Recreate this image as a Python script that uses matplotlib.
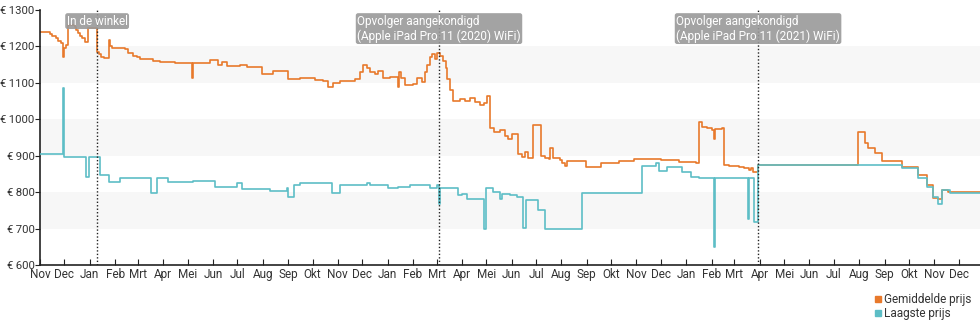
import matplotlib
matplotlib.use("Agg")
import matplotlib.pyplot as plt
import matplotlib.dates as mdates
from matplotlib.lines import Line2D
import pandas as pd

plt.rcParams['font.family'] = ['Roboto', 'DejaVu Sans']

# Gemiddelde prijs (average price)
avg_dates = [
    "2018-11-01", "2018-11-13", "2018-11-16", "2018-11-21", "2018-11-23", "2018-11-27",
    "2018-11-29", "2018-11-30", "2018-12-03", "2018-12-05", "2018-12-14", "2018-12-15",
    "2018-12-18", "2018-12-20", "2018-12-22", "2018-12-26", "2018-12-30", "2019-01-10",
    "2019-01-12", "2019-01-15", "2019-01-18", "2019-01-24", "2019-01-26", "2019-01-28",
    "2019-02-03", "2019-02-13", "2019-02-17", "2019-02-23", "2019-02-28", "2019-03-04",
    "2019-03-19", "2019-03-28", "2019-04-15", "2019-05-06", "2019-05-07", "2019-05-28",
    "2019-06-07", "2019-06-12", "2019-06-18", "2019-07-04", "2019-07-13", "2019-07-31",
    "2019-08-13", "2019-09-01", "2019-09-16", "2019-10-04", "2019-10-14", "2019-10-20",
    "2019-10-26", "2019-11-04", "2019-11-22", "2019-11-28", "2019-12-02", "2019-12-07",
    "2019-12-10", "2019-12-16", "2019-12-20", "2019-12-26", "2020-01-04", "2020-01-14",
    "2020-01-15", "2020-01-17", "2020-01-22", "2020-02-01", "2020-02-06", "2020-02-12",
    "2020-02-16", "2020-02-18", "2020-02-22", "2020-02-24", "2020-02-28", "2020-03-01",
    "2020-03-05", "2020-03-09", "2020-03-12", "2020-03-14", "2020-03-17", "2020-03-21",
    "2020-03-30", "2020-04-05", "2020-04-11", "2020-04-17", "2020-04-23", "2020-04-28",
    "2020-05-02", "2020-05-05", "2020-05-10", "2020-05-18", "2020-05-24", "2020-05-27",
    "2020-06-01", "2020-06-09", "2020-06-14", "2020-06-17", "2020-06-21", "2020-06-27",
    "2020-07-07", "2020-07-12", "2020-07-17", "2020-07-18", "2020-07-22", "2020-07-30",
    "2020-08-02", "2020-08-05", "2020-08-08", "2020-08-31", "2020-09-19", "2020-10-11",
    "2020-10-29", "2020-12-01", "2020-12-23", "2021-01-13", "2021-01-17", "2021-01-20",
    "2021-01-26", "2021-02-02", "2021-02-04", "2021-02-05", "2021-02-14", "2021-02-16",
    "2021-02-22", "2021-03-07", "2021-03-13", "2021-03-19", "2021-03-21", "2021-03-24",
    "2021-03-30", "2021-07-31", "2021-08-08", "2021-08-12", "2021-08-20", "2021-08-29",
    "2021-09-22", "2021-10-12", "2021-10-23", "2021-10-30", "2021-11-05", "2021-11-11",
    "2021-11-18", "2021-12-27",
]
avg_prices = [
    1240, 1234, 1228, 1222, 1215, 1210,
    1172, 1195, 1205, 1258, 1252, 1245,
    1238, 1230, 1222, 1213, 1250, 1185,
    1180, 1172, 1168, 1218, 1200, 1197,
    1195, 1192, 1182, 1175, 1170, 1165,
    1160, 1156, 1155, 1113, 1155, 1162,
    1149, 1157, 1145, 1150, 1143, 1125,
    1132, 1110, 1112, 1108, 1104, 1090,
    1100, 1105, 1110, 1130, 1150, 1140,
    1130, 1125, 1132, 1112, 1115, 1090,
    1130, 1112, 1095, 1097, 1112, 1102,
    1130, 1150, 1170, 1178, 1165, 1182,
    1175, 1160, 1140, 1110, 1080, 1050,
    1055, 1050, 1058, 1048, 1040, 1045,
    1065, 975, 965, 970, 955, 945,
    960, 905, 897, 910, 893, 985,
    900, 895, 890, 920, 895, 888,
    880, 873, 885, 870, 880, 885,
    892, 888, 884, 880, 992, 980,
    975, 970, 945, 972, 975, 875,
    873, 870, 866, 860, 866, 855,
    875, 965, 935, 921, 908, 885,
    868, 847, 820, 784, 780, 806,
    800, 800,
]

# Laagste prijs (lowest price)
low_dates = [
    "2018-11-01", "2018-11-29", "2018-11-30", "2018-12-27", "2018-12-31", "2019-01-14",
    "2019-01-25", "2019-02-07", "2019-03-17", "2019-03-24", "2019-04-07", "2019-05-07",
    "2019-06-03", "2019-06-30", "2019-07-07", "2019-08-10", "2019-08-31", "2019-09-01",
    "2019-09-08", "2019-09-16", "2019-10-25", "2019-11-04", "2019-12-07", "2019-12-10",
    "2020-01-01", "2020-01-14", "2020-01-28", "2020-02-22", "2020-03-02", "2020-03-04",
    "2020-03-05", "2020-03-27", "2020-04-01", "2020-04-07", "2020-04-28", "2020-04-30",
    "2020-05-09", "2020-05-18", "2020-05-20", "2020-05-30", "2020-06-08", "2020-06-15",
    "2020-06-18", "2020-07-03", "2020-07-12", "2020-08-26", "2020-11-08", "2020-11-25",
    "2020-11-29", "2020-12-08", "2020-12-27", "2021-01-07", "2021-01-17", "2021-02-04",
    "2021-02-05", "2021-03-18", "2021-03-19", "2021-03-25", "2021-03-30", "2021-09-22",
    "2021-10-12", "2021-10-23", "2021-10-30", "2021-11-05", "2021-11-11", "2021-11-20",
    "2021-12-27",
]
low_prices = [
    905, 1086, 897, 842, 897, 847,
    828, 838, 798, 838, 828, 830,
    814, 825, 810, 802, 811, 787,
    820, 826, 797, 820, 826, 820,
    811, 815, 820, 811, 820, 768,
    811, 792, 795, 780, 700, 811,
    800, 780, 795, 792, 787, 702,
    779, 751, 700, 797, 872, 880,
    858, 870, 855, 842, 838, 649,
    838, 726, 838, 718, 875, 866,
    840, 815, 787, 768, 806, 798,
    798,
]

events = ["2019-01-10", "2020-03-04", "2021-03-30"]
event_labels = ["In de winkel",
                "Opvolger aangekondigd\n(Apple iPad Pro 11 (2020) WiFi)",
                "Opvolger aangekondigd\n(Apple iPad Pro 11 (2021) WiFi)"]

month_names = ["Jan", "Feb", "Mrt", "Apr", "Mei", "Jun",
               "Jul", "Aug", "Sep", "Okt", "Nov", "Dec"]

ORANGE = "#e8792b"
TEAL = "#5dbec6"

fig = plt.figure(figsize=(9.8, 3.25), dpi=100)
ax = fig.add_axes([40 / 980, 1 - 265 / 325, 1 - 40 / 980, 255 / 325])

for lo in (700, 900, 1100):
    ax.axhspan(lo, lo + 100, color="#f7f7f7", zorder=0, lw=0)

ax.step(pd.to_datetime(avg_dates), avg_prices, where="post", color=ORANGE, lw=1.2, zorder=2)
ax.step(pd.to_datetime(low_dates), low_prices, where="post", color=TEAL, lw=1.2, zorder=3)

for d, lab in zip(events, event_labels):
    x = pd.Timestamp(d)
    ax.axvline(x, color="#222222", ls=(0, (1, 1.5)), lw=1, zorder=4)
    ax.text(x, 0.982, lab, transform=ax.get_xaxis_transform(), ha="center", va="top",
            multialignment="left", color="white", fontsize=8.5, linespacing=1.15, zorder=5,
            bbox=dict(boxstyle="round,pad=0.12,rounding_size=0.2", fc="#999999",
                      ec="none", alpha=0.9))

ax.set_xlim(pd.Timestamp("2018-11-01"), pd.Timestamp("2021-12-27"))
ax.set_ylim(600, 1300)
ax.set_yticks(range(600, 1301, 100))
ax.set_yticklabels([f"€\u2009{v}" for v in range(600, 1301, 100)])

ax.xaxis.set_major_locator(mdates.MonthLocator())
ax.xaxis.set_major_formatter(plt.FuncFormatter(
    lambda v, p: month_names[mdates.num2date(v).month - 1]))

for s in ("top", "right"):
    ax.spines[s].set_visible(False)
for s in ("left", "bottom"):
    ax.spines[s].set_color("#222222")
    ax.spines[s].set_linewidth(1.2)
ax.tick_params(axis="y", direction="out", length=3.5, pad=0.5, labelsize=8.2,
               labelcolor="#333333", color="#222222")
ax.tick_params(axis="x", direction="in", length=4, pad=2, labelsize=8.5,
               labelcolor="#333333", color="#222222")

handles = [Line2D([], [], marker="s", ls="none", color=ORANGE, markersize=5),
           Line2D([], [], marker="s", ls="none", color=TEAL, markersize=5)]
fig.legend(handles, ["Gemiddelde prijs", "Laagste prijs"], loc="upper right",
           bbox_to_anchor=(1.0, 0.125), frameon=False, fontsize=8.5,
           handletextpad=0.05, labelspacing=0.15, handlelength=1.0,
           borderpad=0.2, labelcolor="#333333")

fig.savefig("out.png", dpi=100)
